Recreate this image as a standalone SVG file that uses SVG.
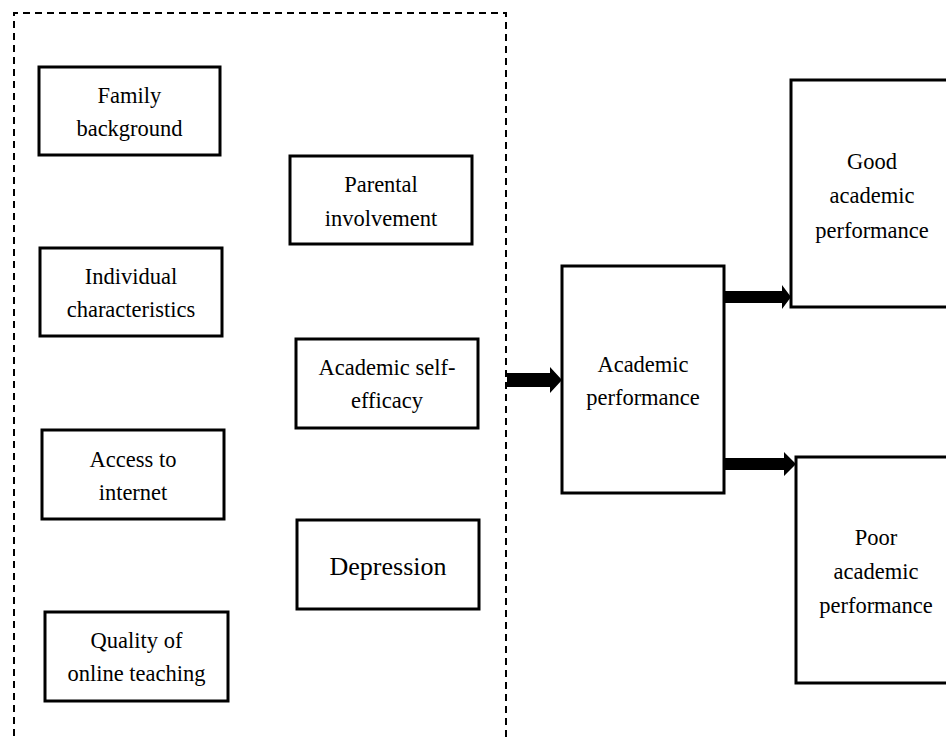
<svg xmlns="http://www.w3.org/2000/svg" width="946" height="741" viewBox="0 0 946 741">
<style>
.box{fill:#fff;stroke:#000;stroke-width:3}
.t{font-family:"Liberation Serif","Times New Roman",serif;font-size:22.5px;fill:#000;text-anchor:middle}
.big{font-size:26px}
.arr{fill:#000;stroke:none}
.frame{fill:none;stroke:#000;stroke-width:2;stroke-dasharray:7 5}
</style>
<rect width="946" height="741" fill="#fff"/>
<path class="frame" d="M14 760 V13 H506 V760"/>
<g id="family">
<rect class="box" x="39" y="67" width="181" height="88"/>
<text class="t" x="129.5" y="103">Family</text>
<text class="t" x="129.5" y="136">background</text>
</g>
<g id="parental">
<rect class="box" x="290" y="156" width="182" height="88"/>
<text class="t" x="381" y="192">Parental</text>
<text class="t" x="381" y="226">involvement</text>
</g>
<g id="individual">
<rect class="box" x="40" y="248" width="182" height="88"/>
<text class="t" x="131" y="284">Individual</text>
<text class="t" x="131" y="317">characteristics</text>
</g>
<g id="selfefficacy">
<rect class="box" x="296" y="339" width="182" height="89"/>
<text class="t" x="387" y="375">Academic self-</text>
<text class="t" x="387" y="408">efficacy</text>
</g>
<g id="internet">
<rect class="box" x="42" y="430" width="182" height="89"/>
<text class="t" x="133" y="467">Access to</text>
<text class="t" x="133" y="500">internet</text>
</g>
<g id="depression">
<rect class="box" x="297" y="520" width="182" height="89"/>
<text class="t big" x="388" y="575">Depression</text>
</g>
<g id="quality">
<rect class="box" x="45" y="612" width="183" height="89"/>
<text class="t" x="136.5" y="648">Quality of</text>
<text class="t" x="136.5" y="681">online teaching</text>
</g>
<g id="academic">
<rect class="box" x="562" y="266" width="162" height="227"/>
<text class="t" x="643" y="372">Academic</text>
<text class="t" x="643" y="405">performance</text>
</g>
<g id="good">
<rect class="box" x="791" y="80" width="170" height="227"/>
<text class="t" x="872" y="169">Good</text>
<text class="t" x="872" y="203">academic</text>
<text class="t" x="872" y="238">performance</text>
</g>
<g id="poor">
<rect class="box" x="796" y="457" width="170" height="226"/>
<text class="t" x="876" y="545">Poor</text>
<text class="t" x="876" y="579">academic</text>
<text class="t" x="876" y="613">performance</text>
</g>
<g id="connectors">
<polygon class="arr" points="507,373 550,373 550,367 562,380 550,393 550,387 507,387"/>
<polygon class="arr" points="725,291 782,291 782,285 791,297 782,309 782,303 725,303"/>
<polygon class="arr" points="725,458 784,458 784,452 796,464 784,476 784,470 725,470"/>
</g>
</svg>
